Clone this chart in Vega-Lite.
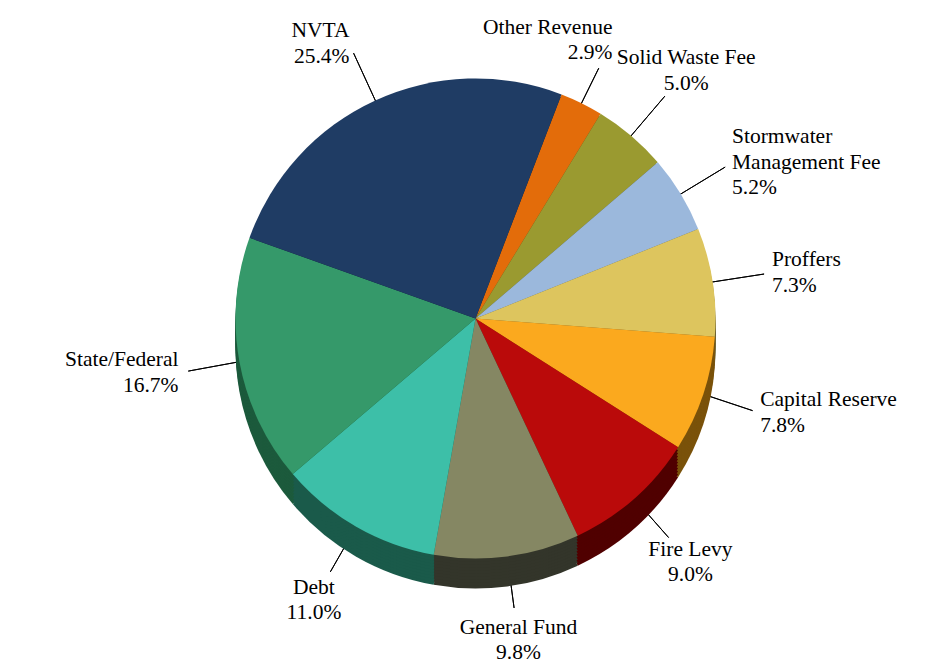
{
  "$schema": "https://vega.github.io/schema/vega-lite/v6.json",
  "width": 951,
  "height": 671,
  "autosize": "none",
  "padding": 0,
  "background": "white",
  "config": {"view": {"stroke": null}, "font": "Liberation Serif"},
  "data": {"values": [
    {"ord": 1, "name": "Other Revenue", "pct": 2.9, "label": "Other Revenue\n2.9%"},
    {"ord": 2, "name": "Solid Waste Fee", "pct": 5.0, "label": "Solid Waste Fee\n5.0%"},
    {"ord": 3, "name": "Stormwater Management Fee", "pct": 5.2, "label": "Stormwater\nManagement Fee\n5.2%"},
    {"ord": 4, "name": "Proffers", "pct": 7.3, "label": "Proffers\n7.3%"},
    {"ord": 5, "name": "Capital Reserve", "pct": 7.8, "label": "Capital Reserve\n7.8%"},
    {"ord": 6, "name": "Fire Levy", "pct": 9.0, "label": "Fire Levy\n9.0%"},
    {"ord": 7, "name": "General Fund", "pct": 9.8, "label": "General Fund\n9.8%"},
    {"ord": 8, "name": "Debt", "pct": 11.0, "label": "Debt\n11.0%"},
    {"ord": 9, "name": "State/Federal", "pct": 16.7, "label": "State/Federal\n16.7%"},
    {"ord": 10, "name": "NVTA", "pct": 25.4, "label": "NVTA\n25.4%"}
  ]},
  "transform": [
    {"window": [{"op": "sum", "field": "pct", "as": "cum"}], "sort": [{"field": "ord"}], "frame": [null, 0]},
    {"calculate": "datum.cum - datum.pct", "as": "cum0"},
    {"calculate": "datum.cum - datum.pct / 2", "as": "mid"}
  ],
  "layer": [
    {
      "transform": [{"filter": {"not": {"field": "name", "equal": "Other Revenue"}}}],
      "mark": {"type": "arc", "fill": "transparent", "stroke": "#000", "strokeWidth": 1, "innerRadius": 230, "outerRadius": 292, "yOffset": -17},
      "encoding": {
        "theta": {"field": "mid", "type": "quantitative", "stack": null, "scale": {"domain": [0, 100.1], "range": [0.3665, 6.6497]}},
        "theta2": {"field": "mid"}
      }
    },
    {
      "transform": [{"filter": {"field": "name", "equal": "Other Revenue"}}],
      "mark": {"type": "arc", "fill": "transparent", "stroke": "#000", "strokeWidth": 1, "innerRadius": 230, "outerRadius": 279, "yOffset": -17},
      "encoding": {
        "theta": {"field": "mid", "type": "quantitative", "stack": null},
        "theta2": {"field": "mid"}
      }
    },
    {"mark": {"type": "arc", "outerRadius": 240, "yOffset": 13},
     "encoding": {"theta": {"field": "cum0", "type": "quantitative", "stack": null, "scale": {"domain": [0, 100.1], "range": [0.3665, 6.6497]}}, "theta2": {"field": "cum"},
       "fill": {"field": "name", "type": "nominal", "legend": null, "scale": {"domain": ["Other Revenue","Solid Waste Fee","Stormwater Management Fee","Proffers","Capital Reserve","Fire Levy","General Fund","Debt","State/Federal","NVTA"], "range": ["#7a3a05","#504f18","#4f6070","#6e6230","#7a520a","#500000","#33352a","#1a5a4a","#1c5a3c","#0f1e33"]}}}},
    {"mark": {"type": "arc", "outerRadius": 240, "yOffset": 10},
     "encoding": {"theta": {"field": "cum0", "type": "quantitative", "stack": null}, "theta2": {"field": "cum"}, "fill": {"field": "name", "type": "nominal", "legend": null}}},
    {"mark": {"type": "arc", "outerRadius": 240, "yOffset": 7},
     "encoding": {"theta": {"field": "cum0", "type": "quantitative", "stack": null}, "theta2": {"field": "cum"}, "fill": {"field": "name", "type": "nominal", "legend": null}}},
    {"mark": {"type": "arc", "outerRadius": 240, "yOffset": 4},
     "encoding": {"theta": {"field": "cum0", "type": "quantitative", "stack": null}, "theta2": {"field": "cum"}, "fill": {"field": "name", "type": "nominal", "legend": null}}},
    {"mark": {"type": "arc", "outerRadius": 240, "yOffset": 1},
     "encoding": {"theta": {"field": "cum0", "type": "quantitative", "stack": null}, "theta2": {"field": "cum"}, "fill": {"field": "name", "type": "nominal", "legend": null}}},
    {"mark": {"type": "arc", "outerRadius": 240, "yOffset": -2},
     "encoding": {"theta": {"field": "cum0", "type": "quantitative", "stack": null}, "theta2": {"field": "cum"}, "fill": {"field": "name", "type": "nominal", "legend": null}}},
    {"mark": {"type": "arc", "outerRadius": 240, "yOffset": -5},
     "encoding": {"theta": {"field": "cum0", "type": "quantitative", "stack": null}, "theta2": {"field": "cum"}, "fill": {"field": "name", "type": "nominal", "legend": null}}},
    {"mark": {"type": "arc", "outerRadius": 240, "yOffset": -8},
     "encoding": {"theta": {"field": "cum0", "type": "quantitative", "stack": null}, "theta2": {"field": "cum"}, "fill": {"field": "name", "type": "nominal", "legend": null}}},
    {"mark": {"type": "arc", "outerRadius": 240, "yOffset": -11},
     "encoding": {"theta": {"field": "cum0", "type": "quantitative", "stack": null}, "theta2": {"field": "cum"}, "fill": {"field": "name", "type": "nominal", "legend": null}}},
    {"mark": {"type": "arc", "outerRadius": 240, "yOffset": -14},
     "encoding": {"theta": {"field": "cum0", "type": "quantitative", "stack": null}, "theta2": {"field": "cum"}, "fill": {"field": "name", "type": "nominal", "legend": null}}},
    {"mark": {"type": "arc", "outerRadius": 240, "yOffset": -17},
     "encoding": {"theta": {"field": "cum0", "type": "quantitative", "stack": null}, "theta2": {"field": "cum"},
       "color": {"field": "name", "type": "nominal", "legend": null, "scale": {"domain": ["Other Revenue","Solid Waste Fee","Stormwater Management Fee","Proffers","Capital Reserve","Fire Levy","General Fund","Debt","State/Federal","NVTA"], "range": ["#E36C0A","#9A9A30","#9BB8DC","#DDC55E","#FBA91E","#BA0A0A","#858763","#3DBFA8","#35996A","#1F3C64"]}}}},
    {
      "transform": [{"filter": {"field": "name", "oneOf": ["Solid Waste Fee","Fire Levy","General Fund","Debt"]}}],
      "mark": {"type": "text", "radius": 325, "yOffset": -17, "dy": -12.75, "align": "center", "baseline": "middle", "lineBreak": "\n", "lineHeight": 25.5, "fontSize": 21.5, "font": "Liberation Serif", "color": "#000"},
      "encoding": {"theta": {"field": "mid", "type": "quantitative", "stack": null}, "text": {"field": "label"}}
    },
    {
      "transform": [{"filter": {"field": "name", "oneOf": ["Proffers","Capital Reserve"]}}],
      "mark": {"type": "text", "radius": 300, "yOffset": -17, "dy": -12.75, "align": "left", "baseline": "middle", "lineBreak": "\n", "lineHeight": 25.5, "fontSize": 21.5, "font": "Liberation Serif", "color": "#000"},
      "encoding": {"theta": {"field": "mid", "type": "quantitative", "stack": null}, "text": {"field": "label"}}
    },
    {
      "transform": [{"filter": {"field": "name", "oneOf": ["Stormwater Management Fee"]}}],
      "mark": {"type": "text", "radius": 300, "yOffset": -17, "dy": -25.5, "align": "left", "baseline": "middle", "lineBreak": "\n", "lineHeight": 25.5, "fontSize": 21.5, "font": "Liberation Serif", "color": "#000"},
      "encoding": {"theta": {"field": "mid", "type": "quantitative", "stack": null}, "text": {"field": "label"}}
    },
    {
      "transform": [{"filter": {"field": "name", "oneOf": ["State/Federal","NVTA"]}}],
      "mark": {"type": "text", "radius": 302, "yOffset": -17, "dy": -12.75, "align": "right", "baseline": "middle", "lineBreak": "\n", "lineHeight": 25.5, "fontSize": 21.5, "font": "Liberation Serif", "color": "#000"},
      "encoding": {"theta": {"field": "mid", "type": "quantitative", "stack": null}, "text": {"field": "label"}}
    },
    {
      "transform": [{"filter": {"field": "name", "equal": "Other Revenue"}}],
      "mark": {"type": "text", "radius": 310, "yOffset": -17, "dy": -12.75, "align": "right", "baseline": "middle", "lineBreak": "\n", "lineHeight": 25.5, "fontSize": 21.5, "font": "Liberation Serif", "color": "#000"},
      "encoding": {"theta": {"field": "mid", "type": "quantitative", "stack": null}, "text": {"field": "label"}}
    }
  ]
}
